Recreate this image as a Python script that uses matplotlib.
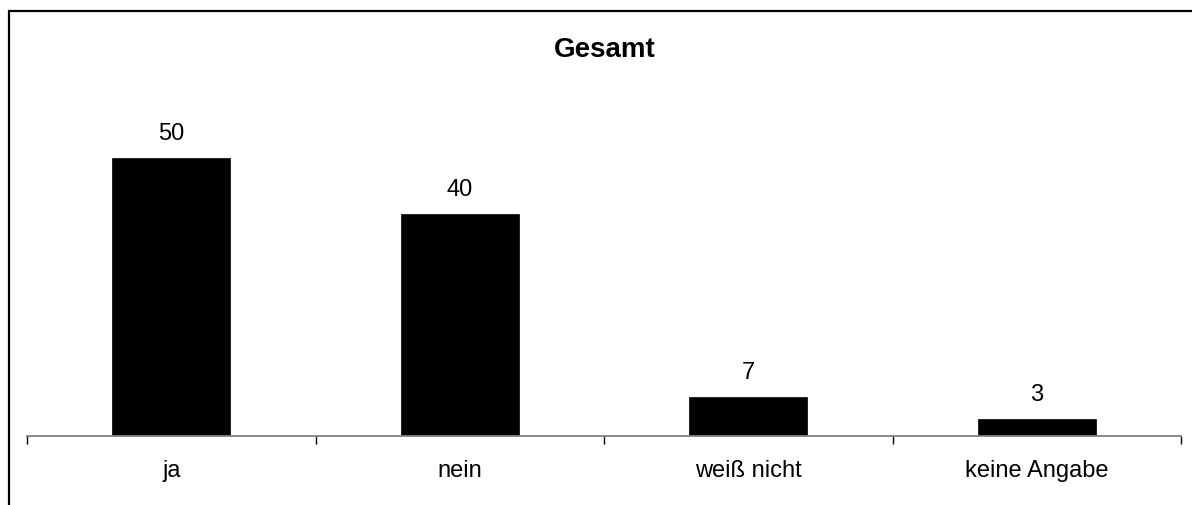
import matplotlib
matplotlib.use("Agg")
import matplotlib.pyplot as plt
from matplotlib.patches import Rectangle
import numpy as np

categories = ["ja", "nein", "weiß nicht", "keine Angabe"]
values = [50, 40, 7, 3]
title = "Gesamt"

plt.rcParams['font.family'] = ['Liberation Sans', 'DejaVu Sans']

W, H = 1192, 505
fig = plt.figure(figsize=(W / 100, H / 100), dpi=100)

# figure border (partly cropped in reference: only top and left visible)
fig.patches.append(Rectangle((8.5 / W, -0.1), 1.2, 1 - 11 / H + 0.1, transform=fig.transFigure,
                             fill=False, edgecolor='black', linewidth=1.6, zorder=0))

ax = fig.add_axes([27 / W, (H - 436) / H, 1154 / W, 333.6 / H])
x = np.arange(len(categories))
ax.bar(x, values, width=0.41, color='black', edgecolor='black', linewidth=0.5, zorder=2)

ax.set_xlim(-0.5, len(categories) - 0.5)
ax.set_ylim(0, 60)

for xi, v in zip(x, values):
    ax.annotate(str(v), (xi, v), xytext=(0, 13), textcoords='offset points',
                ha='center', va='baseline', fontsize=17)

for s in ['top', 'right', 'left']:
    ax.spines[s].set_visible(False)
ax.spines['bottom'].set_color('#808080')
ax.spines['bottom'].set_linewidth(1.3)
ax.set_yticks([])

ax.set_xticks(x)
ax.set_xticklabels(categories, fontsize=17)
ax.tick_params(axis='x', which='major', length=0, pad=17)
ax.set_xticks(np.arange(len(categories) + 1) - 0.5, minor=True)
ax.tick_params(axis='x', which='minor', length=5.5, width=1, color='black', direction='out')

fig.text(605 / W, 1 - 50 / H, title, ha='center', va='center', fontsize=20, fontweight='bold')

fig.savefig("out.png", dpi=100)
